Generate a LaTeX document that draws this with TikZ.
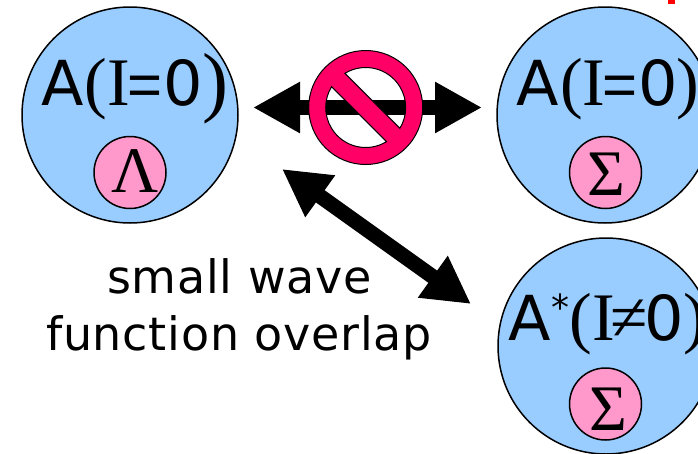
\documentclass[tikz,border=0pt]{standalone}
\usepackage{fontspec}
\setmainfont{DejaVu Sans}
\newfontfamily\serifgr{Liberation Serif}
\newfontfamily\sanseq{Liberation Sans}
\newfontfamily\capfont[LetterSpace=1.6]{DejaVu Sans}
\usetikzlibrary{arrows.meta}
\definecolor{atomblue}{HTML}{99CCFF}
\definecolor{corepink}{HTML}{FF99CC}
\definecolor{signred}{HTML}{FF0066}
\newcommand{\bigS}{\fontsize{62pt}{62pt}\selectfont}
\newcommand{\bigR}{\fontsize{68pt}{68pt}\selectfont\serifgr}
\newcommand{\bigE}{{\fontsize{60pt}{60pt}\selectfont\sanseq =}}
\tikzset{
  atom/.style={circle,draw=black,fill=atomblue,line width=1.5pt,minimum size=216pt,inner sep=0pt},
  core/.style={circle,draw=black,fill=corepink,line width=1.5pt,minimum size=72pt,inner sep=0pt},
  coresym/.style={inner sep=0pt,anchor=base,font=\fontsize{65pt}{65pt}\selectfont\serifgr},
  atomlabel/.style={inner sep=0pt,anchor=base west},
  captext/.style={inner sep=0pt,anchor=base,font=\fontsize{46pt}{46pt}\selectfont\capfont},
  fatarrow/.style={line width=15pt,{Triangle[length=47pt,width=48pt]}-{Triangle[length=47pt,width=48pt]}},
}
\begin{document}
\begin{tikzpicture}[x=1pt,y=-1pt]
\clip (0,0) rectangle (698,453);
\fill[white] (0,0) rectangle (698,453);
\fill[red] (668,0) rectangle (675,4);
% atoms
\node[atom] (a1) at (130,115) {};
\node[atom] (a2) at (605,115) {};
\node[atom] (a3) at (606,346) {};
\node[core] (c1) at (130,172.5) {};
\node[core] (c2) at (605.5,172.5) {};
\node[core] (c3) at (605.5,404) {};
\node[coresym] (s1) at (134.7,192.5) {Λ};
\node[coresym] (s2) at (606.5,195) {Σ};
\node[coresym] (s3) at (608.5,430) {Σ};
% labels
\node[atomlabel] (l1) at (41,105) {\bigS A\kern1pt{\bigR(I}\kern-2.5pt\bigE\kern1pt 0\raisebox{-2pt}{\fontsize{78pt}{78pt}\selectfont\serifgr)}};
\node[atomlabel] (l2) at (516.5,105) {\bigS A\kern1pt{\bigR(I}\kern-2.5pt\bigE\kern1pt 0\kern-2pt{\bigR)}};
\node[atomlabel] (l3) at (508,340) {\bigS A\kern1pt\raisebox{20pt}{\fontsize{36pt}{36pt}\selectfont *}{\bigR(I\kern-4.5pt ≠}\kern-3.5pt 0{\bigR)}};
% arrows
\coordinate (hl) at (253,107.5);
\coordinate (hr) at (482,107.5);
\coordinate (dl) at (282,169);
\coordinate (dr) at (471,304);
\draw[fatarrow] (hl) -- (hr);
\draw[fatarrow] (dl) -- (dr);
% prohibition sign
\coordinate (sign) at (365.7,107.5);
\path[fill=signred,draw=black,line width=1pt,even odd rule]
  (sign) circle[radius=57]
  (sign) ++(-121.3:40) arc[start angle=-121.3,end angle=31.3,radius=40] -- cycle
  (sign) ++(58.7:40) arc[start angle=58.7,end angle=211.3,radius=40] -- cycle;
% caption
\node[captext] (t1) at (239.5,293) {small wave};
\node[captext] (t2) at (239,350) {function overlap};
\end{tikzpicture}
\end{document}
